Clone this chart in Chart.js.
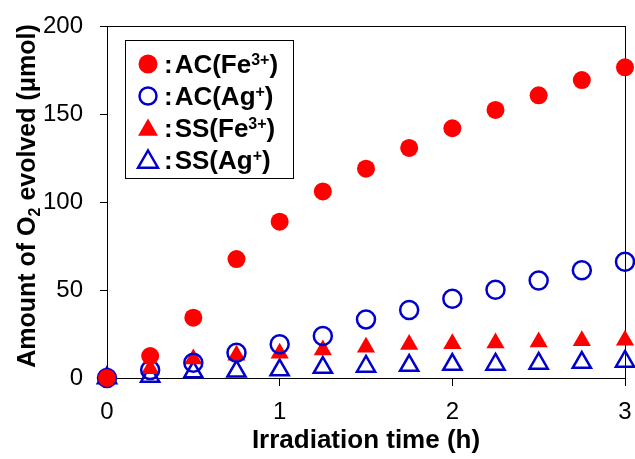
<!DOCTYPE html>
<html>
<head>
<meta charset="utf-8">
<script src="https://cdn.jsdelivr.net/npm/chart.js@4.4.1/dist/chart.umd.min.js"></script>
<style>
  html, body { margin: 0; padding: 0; background: #fff; }
</style>
</head>
<body>
<canvas id="o2-chart" width="635" height="459"></canvas>
<script>
// irradiation time (h)
const times = [0, 0.25, 0.5, 0.75, 1, 1.25, 1.5, 1.75, 2, 2.25, 2.5, 2.75, 3];
// O2 evolved (umol)
const acFe = [0, 12.5, 34.3, 67.6, 88.8, 106, 118.9, 130.7, 141.9, 152.3, 160.6, 169.3, 176.5];
const acAg = [0, 4.5, 8.7, 14.4, 19.2, 23.9, 33.3, 38.6, 45.0, 50.2, 55.4, 61.2, 66.1];
const ssFe = [0, 5.2, 10.8, 12.9, 14.0, 15.9, 17.5, 19.0, 19.4, 19.9, 20.5, 21.1, 21.4];
const ssAg = [0, 0.9, 3.4, 3.8, 4.5, 5.9, 6.6, 7.1, 7.6, 7.7, 8.3, 8.8, 9.4];
const xTicks = [0, 1, 2, 3];
const yTicks = [0, 50, 100, 150, 200];

const RED = '#ff0000';
const BLUE = '#0000cc';
const FONT = 'Arial, "Liberation Sans", Helvetica, sans-serif';

const legendItems = [
  { style: 'circle', fill: true, color: RED, text: 'AC(Fe', sup: '3+' },
  { style: 'circle', fill: false, color: BLUE, text: 'AC(Ag', sup: '+' },
  { style: 'triangle', fill: true, color: RED, text: 'SS(Fe', sup: '3+' },
  { style: 'triangle', fill: false, color: BLUE, text: 'SS(Ag', sup: '+' },
];

function toPoints(ys) {
  return times.map((t, i) => ({ x: t, y: ys[i] }));
}

function series(label, ys, style, color, filled) {
  const tri = style === 'triangle';
  return {
    label,
    data: toPoints(ys),
    pointStyle: style,
    pointRadius: tri ? 10.5 : 9,
    pointHoverRadius: tri ? 10.5 : 9,
    backgroundColor: filled ? color : 'rgba(0,0,0,0)',
    borderColor: color,
    pointBorderWidth: filled ? 0 : 2.5,
    borderWidth: filled ? 0 : 2.5,
    showLine: false,
    clip: false,
  };
}

// top and right edges of the plot box, filled as 1px rects under the markers
const framePlugin = {
  id: 'plotFrame',
  beforeDatasetsDraw(chart) {
    const ctx = chart.ctx;
    const a = chart.chartArea;
    const l = Math.round(a.left), t = Math.round(a.top);
    const r = Math.round(a.right), b = Math.round(a.bottom);
    ctx.save();
    ctx.globalCompositeOperation = 'source-over';
    ctx.globalAlpha = 1;
    ctx.fillStyle = '#000000';
    ctx.fillRect(l, t, r - l + 1, 1);
    ctx.fillRect(r, t, 1, b - t + 1);
    ctx.restore();
  }
};

// y title with subscript 2
const yTitlePlugin = {
  id: 'yTitle',
  afterDraw(chart) {
    const ctx = chart.ctx;
    const a = chart.chartArea;
    const parts = [
      { t: 'Amount of O', size: 25, dy: 0 },
      { t: '2', size: 16, dy: 5 },
      { t: ' evolved (\u03bcmol)', size: 25, dy: 0 },
    ];
    ctx.save();
    let total = 0;
    parts.forEach(p => {
      ctx.font = 'bold ' + p.size + 'px ' + FONT;
      p.w = ctx.measureText(p.t).width;
      total += p.w;
    });
    ctx.translate(35, (a.top + a.bottom) / 2 - 6);
    ctx.rotate(-Math.PI / 2);
    ctx.fillStyle = '#000';
    ctx.textBaseline = 'alphabetic';
    ctx.textAlign = 'left';
    let x = -total / 2;
    parts.forEach(p => {
      ctx.font = 'bold ' + p.size + 'px ' + FONT;
      ctx.fillText(p.t, x, p.dy);
      x += p.w;
    });
    ctx.restore();
  }
};

// legend box with superscripts
const legendPlugin = {
  id: 'legendBox',
  afterDraw(chart) {
    const ctx = chart.ctx;
    const box = { x: 125.5, y: 40.5, w: 168, h: 138 };
    const rows = [64, 96, 128, 160];
    ctx.save();
    ctx.fillStyle = '#fff';
    ctx.fillRect(box.x, box.y, box.w, box.h);
    ctx.strokeStyle = '#000';
    ctx.lineWidth = 1;
    ctx.strokeRect(box.x, box.y, box.w, box.h);
    legendItems.forEach((it, i) => {
      const cy = rows[i];
      const cx = 148;
      ctx.beginPath();
      if (it.style === 'circle') {
        ctx.arc(cx, cy, it.fill ? 9.5 : 8.5, 0, Math.PI * 2);
      } else {
        const r = 11.5;
        ctx.moveTo(cx, cy - r + 2);
        ctx.lineTo(cx + r * 0.866, cy + r / 2 + 2);
        ctx.lineTo(cx - r * 0.866, cy + r / 2 + 2);
        ctx.closePath();
      }
      if (it.fill) {
        ctx.fillStyle = it.color;
        ctx.fill();
      } else {
        ctx.strokeStyle = it.color;
        ctx.lineWidth = 2.5;
        ctx.stroke();
      }
      ctx.fillStyle = '#000';
      ctx.textBaseline = 'alphabetic';
      ctx.textAlign = 'left';
      const base = cy + 9;
      let x = 164;
      ctx.font = 'bold 26px ' + FONT;
      ctx.fillText(':', x, base);
      x += ctx.measureText(':').width + 2;
      ctx.fillText(it.text, x, base);
      x += ctx.measureText(it.text).width;
      ctx.font = 'bold 16px ' + FONT;
      ctx.fillText(it.sup, x, base - 8);
      x += ctx.measureText(it.sup).width;
      ctx.font = 'bold 26px ' + FONT;
      ctx.fillText(')', x, base);
    });
    ctx.restore();
  }
};

new Chart(document.getElementById('o2-chart').getContext('2d'), {
  type: 'scatter',
  data: {
    datasets: [
      series('AC(Fe3+)', acFe, 'circle', RED, true),
      series('AC(Ag+)', acAg, 'circle', BLUE, false),
      series('SS(Fe3+)', ssFe, 'triangle', RED, true),
      series('SS(Ag+)', ssAg, 'triangle', BLUE, false),
    ]
  },
  options: {
    responsive: false,
    animation: false,
    layout: { autoPadding: false, padding: { top: 26, right: 10, left: 0, bottom: 0 } },
    plugins: {
      legend: { display: false },
      tooltip: { enabled: false },
    },
    scales: {
      x: {
        type: 'linear',
        position: 'bottom',
        min: 0,
        max: 3,
        afterBuildTicks(scale) {
          scale.ticks = xTicks.map(v => ({ value: v }));
        },
        afterFit(scale) {
          scale.height = 81;
          scale.paddingLeft = 0;
          scale.paddingRight = 0;
        },
        grid: { drawOnChartArea: false, color: '#000', tickLength: 8, tickWidth: 1 },
        border: { color: '#000', width: 1 },
        ticks: { color: '#000', padding: 12, font: { family: FONT, size: 24 } },
        title: {
          display: true,
          text: 'Irradiation time (h)',
          color: '#000',
          font: { family: FONT, size: 26, weight: 'bold', lineHeight: 1 },
          padding: { top: 0, bottom: 5 },
        },
      },
      y: {
        position: 'left',
        min: 0,
        max: 200,
        afterBuildTicks(scale) {
          scale.ticks = yTicks.map(v => ({ value: v }));
        },
        afterFit(scale) {
          scale.width = 107;
          scale.paddingTop = 0;
          scale.paddingBottom = 0;
        },
        grid: { drawOnChartArea: false, color: '#000', tickLength: 7, tickWidth: 1 },
        border: { color: '#000', width: 1 },
        ticks: { color: '#000', padding: 17, font: { family: FONT, size: 24 } },
      },
    },
  },
  plugins: [framePlugin, yTitlePlugin, legendPlugin],
});
</script>
</body>
</html>
